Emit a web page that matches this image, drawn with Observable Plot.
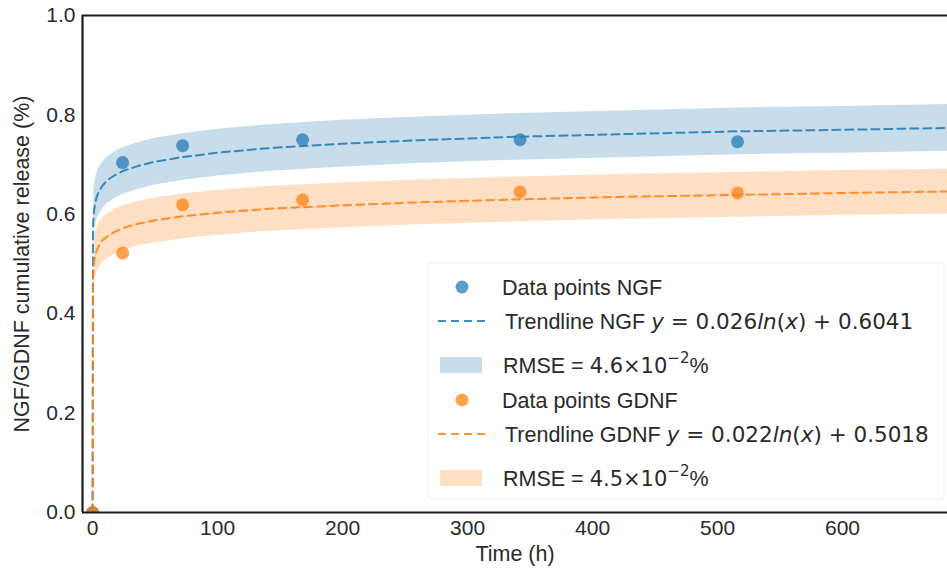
<!DOCTYPE html>
<html><head><meta charset="utf-8">
<script src="https://cdn.jsdelivr.net/npm/d3@7"></script>
<script src="https://cdn.jsdelivr.net/npm/@observablehq/plot@0.6"></script>
<style>
body{margin:0;background:#fff;}
#chart{position:relative;width:947px;height:572px;}
</style>
</head><body><div id="chart"></div>
<script>
// ---- data ----
const timeNGF = [0, 24, 72, 168, 342, 516];
const valueNGF = [0, 0.704, 0.738, 0.750, 0.750, 0.746];
const timeGDNF = [0, 24, 72, 168, 342, 516];
const valueGDNF = [0, 0.522, 0.619, 0.629, 0.645, 0.643];

const trendTime = [0, 0.3, 0.5, 1, 2, 3, 5, 8, 12, 18, 24, 36, 50, 72, 100, 140, 200, 260, 340, 420, 517, 600, 690];
const trendNGF  = [0, 0.573, 0.586, 0.604, 0.622, 0.633, 0.646, 0.658, 0.669, 0.679, 0.687, 0.697, 0.706, 0.715, 0.724, 0.733, 0.742, 0.749, 0.756, 0.761, 0.767, 0.770, 0.774];
const trendGDNF = [0, 0.475, 0.487, 0.502, 0.517, 0.526, 0.537, 0.548, 0.556, 0.565, 0.572, 0.581, 0.588, 0.596, 0.603, 0.611, 0.618, 0.624, 0.630, 0.635, 0.639, 0.643, 0.646];

const bandTime    = [1, 2, 3, 5, 8, 12, 18, 24, 36, 50, 72, 100, 140, 200, 260, 340, 420, 517, 600, 690];
const bandNGFLow  = [0.557, 0.575, 0.586, 0.599, 0.611, 0.622, 0.632, 0.640, 0.650, 0.659, 0.668, 0.677, 0.686, 0.695, 0.702, 0.709, 0.714, 0.720, 0.723, 0.727];
const bandNGFHigh = [0.651, 0.669, 0.680, 0.693, 0.705, 0.716, 0.726, 0.734, 0.744, 0.753, 0.762, 0.771, 0.780, 0.789, 0.796, 0.803, 0.808, 0.814, 0.817, 0.821];
const bandGDNFLow  = [0.457, 0.472, 0.481, 0.492, 0.503, 0.511, 0.520, 0.527, 0.536, 0.543, 0.551, 0.558, 0.566, 0.573, 0.579, 0.585, 0.590, 0.594, 0.598, 0.601];
const bandGDNFHigh = [0.547, 0.562, 0.571, 0.582, 0.593, 0.601, 0.610, 0.617, 0.626, 0.633, 0.641, 0.648, 0.656, 0.663, 0.669, 0.675, 0.680, 0.684, 0.688, 0.691];

const xTicks = [0, 100, 200, 300, 400, 500, 600];
const yTicks = [0.0, 0.2, 0.4, 0.6, 0.8, 1.0];
const xLabel = "Time (h)";
const yLabel = "NGF/GDNF cumulative release (%)";
const xDomain = [-8.1, 684];
const yDomain = [0, 1];

const legendPoints = ["Data points NGF", "Data points GDNF"];
const legendTrendPrefix = ["Trendline NGF ", "Trendline GDNF "];
const legendCoef = ["0.026", "0.022"];
const legendIntercept = ["0.6041", "0.5018"];
const legendRmse = ["4.6", "4.5"];

const BLUE = "#1f77b4", ORANGE = "#ff7f0e";

// ---- tables ----
const pts = (xs, ys) => xs.map((x, i) => ({x, y: ys[i]}));
const band = (xs, lo, hi) => xs.map((x, i) => ({x, lo: lo[i], hi: hi[i]}));
const ngfPts = pts(timeNGF, valueNGF), gdnfPts = pts(timeGDNF, valueGDNF);
const ngfTrend = pts(trendTime, trendNGF), gdnfTrend = pts(trendTime, trendGDNF);
const ngfBand = band(bandTime, bandNGFLow, bandNGFHigh), gdnfBand = band(bandTime, bandGDNFLow, bandGDNFHigh);

const FONT = "'Liberation Sans', Arial, sans-serif";

const svg = Plot.plot({
  width: 947, height: 572,
  marginLeft: 82, marginRight: 0, marginTop: 15, marginBottom: 60,
  style: {fontFamily: FONT, fontSize: "21px", color: "#2a2a2a", background: "white", overflow: "visible"},
  x: {domain: xDomain, ticks: xTicks, tickSize: 0, tickPadding: 8, label: xLabel, labelAnchor: "center", labelArrow: "none", labelOffset: 48},
  y: {domain: yDomain, ticks: yTicks, tickSize: 0, tickPadding: 7, tickFormat: d3.format(".1f"), label: yLabel, labelAnchor: "center", labelArrow: "none", labelOffset: 69},
  marks: [
    Plot.areaY(ngfBand, {x: "x", y1: "lo", y2: "hi", fill: BLUE, fillOpacity: 0.25, clip: true}),
    Plot.areaY(gdnfBand, {x: "x", y1: "lo", y2: "hi", fill: ORANGE, fillOpacity: 0.25, clip: true}),
    Plot.line(ngfTrend, {x: "x", y: "y", stroke: BLUE, strokeOpacity: 0.85, strokeWidth: 2, strokeDasharray: "8,5", clip: true}),
    Plot.line(gdnfTrend, {x: "x", y: "y", stroke: ORANGE, strokeOpacity: 0.85, strokeWidth: 2, strokeDasharray: "8,5", clip: true}),
    Plot.dot(ngfPts, {x: "x", y: "y", r: 6.5, fill: BLUE, fillOpacity: 0.72, clip: true}),
    Plot.dot(gdnfPts, {x: "x", y: "y", r: 6.5, fill: ORANGE, fillOpacity: 0.72, clip: true}),
    Plot.ruleX([xDomain[0]], {stroke: "#1a1a1a", strokeWidth: 2.2}),
    Plot.ruleY([yDomain[0]], {stroke: "#1a1a1a", strokeWidth: 2.2}),
    Plot.ruleY([yDomain[1]], {stroke: "#1a1a1a", strokeWidth: 2.2})
  ]
});
document.getElementById("chart").appendChild(svg);
// slightly larger axis titles
d3.select(svg).selectAll("[aria-label='x-axis label'], [aria-label='y-axis label']").attr("font-size", "21.5px");

// ---- legend (inside the plot area) ----
const s = d3.select(svg);
const g = s.append("g").attr("font-family", FONT).attr("font-size", 21.5).attr("fill", "#2a2a2a").attr("text-anchor", "start");
g.append("rect").attr("x", 428).attr("y", 263).attr("width", 516).attr("height", 236)
  .attr("fill", "white").attr("fill-opacity", 0.85).attr("stroke", "#f0f0f0").attr("rx", 3);

const colors = [BLUE, ORANGE];
const baseY = [287, 400];
colors.forEach((c, i) => {
  const y0 = baseY[i];
  // data points
  g.append("circle").attr("cx", 462).attr("cy", y0).attr("r", 6.5).attr("fill", c).attr("fill-opacity", 0.72);
  g.append("text").attr("x", 502).attr("y", y0).attr("dy", "0.36em").text(legendPoints[i]);
  // trendline
  const y1 = y0 + 34;
  g.append("line").attr("x1", 438).attr("x2", 486).attr("y1", y1).attr("y2", y1)
    .attr("stroke", c).attr("stroke-opacity", 0.85).attr("stroke-width", 2).attr("stroke-dasharray", "8,5");
  const t = g.append("text").attr("x", 505).attr("y", y1).attr("dy", "0.36em");
  t.append("tspan").text(legendTrendPrefix[i]);
  const m = t.append("tspan").attr("font-family", "'DejaVu Sans', sans-serif").attr("font-size", 21.5);
  m.append("tspan").attr("font-style", "italic").text("y");
  m.append("tspan").text(" = " + legendCoef[i]);
  m.append("tspan").attr("font-style", "italic").text("ln");
  m.append("tspan").text("(");
  m.append("tspan").attr("font-style", "italic").text("x");
  m.append("tspan").text(") + " + legendIntercept[i]);
  // RMSE band
  const y2 = y0 + 78;
  g.append("rect").attr("x", 440).attr("y", y2 - 8).attr("width", 42).attr("height", 16)
    .attr("fill", c).attr("fill-opacity", 0.25);
  const r = g.append("text").attr("x", 503).attr("y", y2).attr("dy", "0.36em");
  r.append("tspan").text("RMSE = ");
  const rm = r.append("tspan").attr("font-family", "'DejaVu Sans', sans-serif").attr("font-size", 21);
  rm.append("tspan").text(legendRmse[i] + "×10");
  rm.append("tspan").attr("font-size", 15).attr("dy", -10).text("−2");
  r.append("tspan").attr("dy", 10).text("%");
});
</script>
</body></html>
